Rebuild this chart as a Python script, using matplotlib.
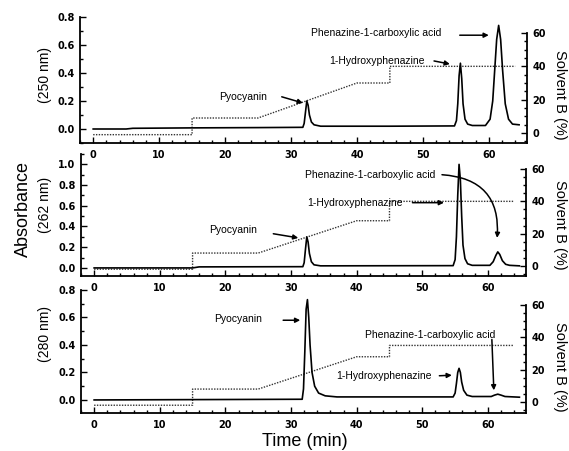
"""
HPLC chromatograms of phenazines at three wavelengths with the solvent B
gradient drawn on a second axis.
"""
import matplotlib
matplotlib.use("Agg")
import matplotlib.pyplot as plt
from matplotlib.ticker import MultipleLocator, FixedLocator

# --- data ----------------------------------------------------------------
# 250 nm trace
t_250 = [0, 5, 6, 15, 25, 31.8, 32.0, 32.2, 32.4, 32.6, 32.8, 33.1, 33.5,
         34.5, 45, 54.8, 55.1, 55.3, 55.5, 55.7, 55.9, 56.1, 56.4, 56.8,
         57.5, 59.5, 60.2, 60.6, 60.9, 61.2, 61.5, 61.8, 62.1, 62.5, 63.0,
         63.6, 64.6]
a_250 = [0, 0, 0.005, 0.008, 0.01, 0.012, 0.04, 0.12, 0.2, 0.17, 0.1, 0.05,
         0.03, 0.02, 0.02, 0.022, 0.06, 0.18, 0.38, 0.47, 0.36, 0.18, 0.07,
         0.035, 0.025, 0.025, 0.07, 0.2, 0.42, 0.64, 0.74, 0.64, 0.42, 0.18,
         0.07, 0.035, 0.03]

# 262 nm trace
t_262 = [0, 15, 16, 31.8, 32.0, 32.2, 32.4, 32.6, 32.8, 33.1, 33.5, 34.5,
         54.7, 55.0, 55.2, 55.4, 55.6, 55.8, 56.0, 56.2, 56.5, 56.9, 57.6,
         60.3, 60.8, 61.2, 61.5, 61.8, 62.2, 62.7, 63.3, 64.8]
a_262 = [0, 0, 0.01, 0.012, 0.05, 0.18, 0.3, 0.25, 0.14, 0.06, 0.03, 0.02,
         0.022, 0.08, 0.3, 0.7, 1.0, 0.85, 0.5, 0.22, 0.09, 0.04, 0.025,
         0.025, 0.06, 0.12, 0.155, 0.13, 0.07, 0.035, 0.025, 0.02]

# 280 nm trace
t_280 = [0, 31.7, 31.9, 32.1, 32.3, 32.5, 32.7, 32.9, 33.2, 33.6, 34.2,
         35.2, 37, 54.7, 55.0, 55.2, 55.4, 55.6, 55.8, 56.0, 56.3, 56.8,
         57.6, 60.5, 61.0, 61.5, 62.0, 62.6, 64.8]
a_280 = [0, 0.005, 0.08, 0.35, 0.66, 0.73, 0.6, 0.4, 0.2, 0.1, 0.05, 0.03,
         0.022, 0.022, 0.05, 0.12, 0.2, 0.23, 0.2, 0.13, 0.07, 0.035, 0.025,
         0.025, 0.035, 0.042, 0.035, 0.025, 0.02]

# solvent B gradient (%)
t_solvent = [0, 15, 15, 25, 40, 45, 45, 64]
b_250 = [-1, -1, 9, 9, 30, 30, 40, 40]
b_262 = [-2, -2, 8, 8, 28, 28, 40, 40]
b_280 = [-2, -2, 8, 8, 28, 28, 35, 35]

x_ticks = [0, 10, 20, 30, 40, 50, 60]
solvent_ticks = [0, 20, 40, 60]
solvent_minor = [-5, 5, 10, 15, 25, 30, 35, 45, 50, 55]
wavelength_labels = ["(250 nm)", "(262 nm)", "(280 nm)"]

W, H = 569, 451
SANS = ["Liberation Sans", "DejaVu Sans"]


def px_box(left, top, right, bottom):
    """Turn pixel edges of the reference into a figure-fraction box."""
    return [left / W, (H - bottom) / H, (right - left) / W, (bottom - top) / H]


def setup_panel(fig, box, ylim, ylim_right):
    """Make one panel: absorbance on the left, solvent B on the right."""
    ax = fig.add_axes(box)
    ax.set_xlim(-2, 65.8)
    ax.set_ylim(*ylim)
    ax.set_xticks(x_ticks)
    ax.xaxis.set_minor_locator(MultipleLocator(2))
    ax.yaxis.set_major_locator(MultipleLocator(0.2))
    ax.yaxis.set_minor_locator(MultipleLocator(0.1))
    ax.spines["top"].set_visible(False)
    ax.spines["right"].set_visible(False)
    for s in ("left", "bottom"):
        ax.spines[s].set_linewidth(1.3)
    ax.tick_params(which="both", direction="in", width=1.0, labelsize=7,
                   pad=4)
    ax.tick_params(which="major", length=4.5)
    ax.tick_params(which="minor", length=2.5)
    ax.tick_params(axis="x", pad=5)
    ax.yaxis.set_major_formatter(plt.FuncFormatter(lambda v, p: f"{v:.1f}"))
    for lab in ax.get_xticklabels() + ax.get_yticklabels():
        lab.set_fontweight("bold")

    ax2 = ax.twinx()
    ax2.set_ylim(*ylim_right)
    ax2.yaxis.set_major_locator(FixedLocator(solvent_ticks))
    ax2.yaxis.set_minor_locator(FixedLocator(solvent_minor))
    for s in ("top", "left", "bottom"):
        ax2.spines[s].set_visible(False)
    ax2.spines["right"].set_linewidth(1.3)
    ax2.spines["right"].set_bounds(ylim_right[0], 60)
    ax2.tick_params(which="both", direction="in", width=1.0, labelsize=7,
                    pad=4)
    ax2.tick_params(which="major", length=4.5)
    ax2.tick_params(which="minor", length=2.5)
    for lab in ax2.get_yticklabels():
        lab.set_fontweight("bold")
    return ax, ax2


def arrow(ax, start, end, rad=0.0):
    """Solid black arrow from start to end (data coords)."""
    ax.annotate("", xy=end, xytext=start,
                arrowprops=dict(arrowstyle="-|>", color="black", lw=1.1,
                                mutation_scale=7, shrinkA=0, shrinkB=0,
                                connectionstyle=f"arc3,rad={rad}"))


def label(ax, x, y, text):
    ax.text(x, y, text, ha="center", va="center", fontsize=7.5,
            family=SANS, color="black")


def main():
    fig = plt.figure(figsize=(W / 100, H / 100), dpi=100)

    ax1, r1 = setup_panel(fig, px_box(80, 17, 527, 143), (-0.1, 0.8),
                          (-6.0, 69.6))
    ax2, r2 = setup_panel(fig, px_box(81, 154, 526, 276), (-0.078, 1.1),
                          (-6.2, 69.3))
    ax3, r3 = setup_panel(fig, px_box(81, 290, 526, 413), (-0.095, 0.8),
                          (-6.8, 69.3))

    traces = [(ax1, r1, t_250, a_250, b_250), (ax2, r2, t_262, a_262, b_262),
              (ax3, r3, t_280, a_280, b_280)]
    for ax, rax, t, a, b in traces:
        rax.plot(t_solvent, b, color="0.2", lw=1.0, linestyle=(0, (1, 1)))
        ax.plot(t, a, color="black", lw=1.2)
        ax.set_zorder(rax.get_zorder() + 1)
        ax.patch.set_visible(False)

    # 250 nm annotations
    label(ax1, 22.7, 0.23, "Pyocyanin")
    arrow(ax1, (28.6, 0.23), (31.8, 0.186))
    label(ax1, 43.0, 0.486, "1-Hydroxyphenazine")
    arrow(ax1, (51.7, 0.486), (54.1, 0.464))
    label(ax1, 43.0, 0.686, "Phenazine-1-carboxylic acid")
    arrow(ax1, (55.6, 0.67), (60.0, 0.67))

    # 262 nm annotations
    label(ax2, 21.1, 0.37, "Pyocyanin")
    arrow(ax2, (27.3, 0.33), (31.1, 0.29))
    label(ax2, 39.8, 0.63, "1-Hydroxyphenazine")
    arrow(ax2, (48.5, 0.63), (53.3, 0.63))
    label(ax2, 42.1, 0.90, "Phenazine-1-carboxylic acid")
    arrow(ax2, (53.0, 0.90), (61.4, 0.29), rad=-0.5)

    # 280 nm annotations
    label(ax3, 22.0, 0.586, "Pyocyanin")
    arrow(ax3, (28.8, 0.58), (31.4, 0.58))
    label(ax3, 51.2, 0.476, "Phenazine-1-carboxylic acid")
    arrow(ax3, (60.6, 0.44), (60.9, 0.07))
    label(ax3, 44.1, 0.176, "1-Hydroxyphenazine")
    arrow(ax3, (52.6, 0.176), (54.5, 0.18))

    # axis titles
    for y_px, txt in zip([75, 205, 334], wavelength_labels):
        fig.text(45 / W, 1 - y_px / H, txt, rotation=90, ha="center",
                 va="center", fontsize=10, family=SANS)
    for y_px in [95, 225, 367]:
        fig.text(560 / W, 1 - y_px / H, "Solvent B (%)", rotation=270,
                 ha="center", va="center", fontsize=10.5, family=SANS)
    fig.text(23 / W, 1 - 209 / H, "Absorbance", rotation=90, ha="center",
             va="center", fontsize=13, family=SANS)
    fig.text(305 / W, 1 - 442 / H, "Time (min)", ha="center", va="center",
             fontsize=13, family=SANS)

    fig.savefig("out.png", dpi=100)


if __name__ == "__main__":
    main()
